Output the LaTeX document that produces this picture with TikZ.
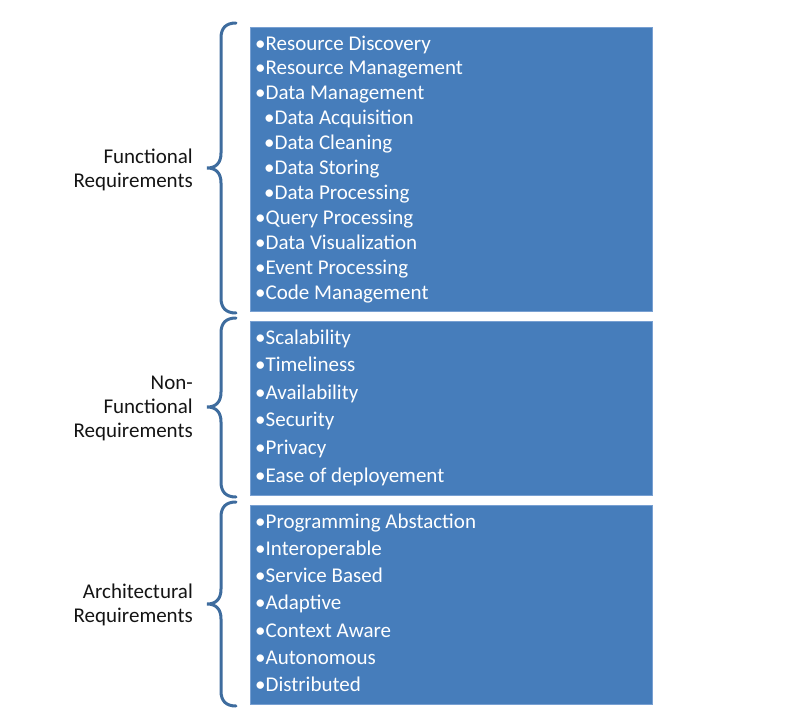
\documentclass[tikz,border=0pt]{standalone}
\usepackage{fontspec}
\setmainfont{Carlito}
\definecolor{boxblue}{RGB}{70,125,187}
\definecolor{boxedge}{RGB}{120,160,210}
\definecolor{bracecol}{RGB}{62,108,158}
\definecolor{labcol}{RGB}{20,20,20}
\tikzset{
  x=1pt,y=-1pt,
  reqbox/.style={fill=boxblue,draw=boxedge,line width=0.8pt,anchor=north west,inner sep=0pt},
  item/.style={anchor=base west,inner sep=0pt,text=white,font=\fontsize{21}{23}\selectfont},
  lab/.style={anchor=base east,inner sep=0pt,text=labcol,font=\fontsize{21}{23}\selectfont},
  bracepath/.style={draw=bracecol,line width=3pt,line cap=round}
}
\begin{document}
\begin{tikzpicture}
\useasboundingbox (0,0) rectangle (785,728);
% boxes
\node[reqbox,minimum width=402,minimum height=284] (b1) at (250,27) {};
\node[reqbox,minimum width=402,minimum height=174] (b2) at (250,321) {};
\node[reqbox,minimum width=402,minimum height=199] (b3) at (250,505) {};
% box 1 items
\foreach \t/\dx [count=\i from 0] in {Resource Discovery/0,Resource Management/0,Data Management/0,Data Acquisition/9,Data Cleaning/9,Data Storing/9,Data Processing/9,Query Processing/0,Data Visualization/0,Event Processing/0,Code Management/0}{
  \node[item] (f\i) at (255+\dx,50+24.9*\i) {•\t};
}
% box 2 items
\foreach \t [count=\i from 0] in {Scalability,Timeliness,Availability,Security,Privacy,Ease of deployement}{
  \node[item] (n\i) at (255,344+27.6*\i) {•\t};
}
% box 3 items
\foreach \t [count=\i from 0] in {Programming Abstaction,Interoperable,Service Based,Adaptive,Context Aware,Autonomous,Distributed}{
  \node[item] (a\i) at (255,528+27.3*\i) {•\t};
}
% labels
\node[lab] (l1a) at (193,163) {Functional};
\node[lab] (l1b) at (193,187) {Requirements};
\node[lab] (l2a) at (193,389) {Non-};
\node[lab] (l2b) at (193,413) {Functional};
\node[lab] (l2c) at (193,437) {Requirements};
\node[lab] (l3a) at (193,598) {Architectural};
\node[lab] (l3b) at (193,622) {Requirements};
% braces
\draw[bracepath] (236,23) .. controls (226,23) and (221,28) .. (221,38) -- (221,153)
  .. controls (221,163) and (216,168) .. (207,168)
  .. controls (216,168) and (221,173) .. (221,183) -- (221,298)
  .. controls (221,308) and (226,313) .. (236,313);
\draw[bracepath] (236,318) .. controls (226,318) and (221,323) .. (221,333) -- (221,392)
  .. controls (221,402) and (216,407) .. (207,407)
  .. controls (216,407) and (221,412) .. (221,422) -- (221,482)
  .. controls (221,492) and (226,497) .. (236,497);
\draw[bracepath] (236,502) .. controls (226,502) and (221,507) .. (221,517) -- (221,589)
  .. controls (221,599) and (216,604) .. (207,604)
  .. controls (216,604) and (221,609) .. (221,619) -- (221,691)
  .. controls (221,701) and (226,706) .. (236,706);
\end{tikzpicture}
\end{document}
